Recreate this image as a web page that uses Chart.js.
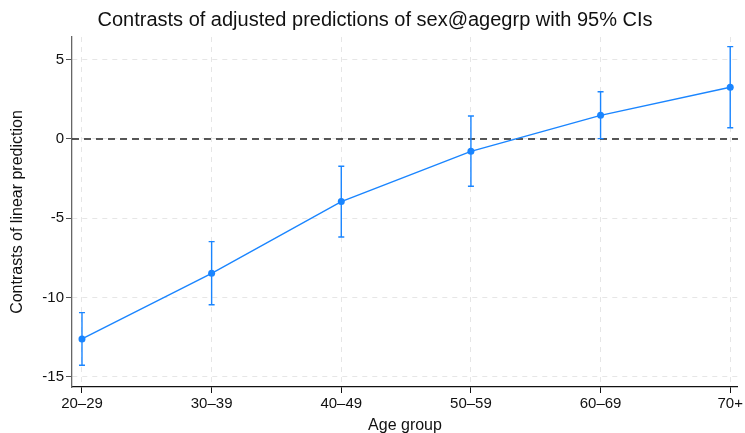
<!DOCTYPE html>
<html>
<head>
<meta charset="utf-8">
<script src="https://cdn.jsdelivr.net/npm/chart.js@4"></script>
<style>
  html, body { margin: 0; padding: 0; background: #fff; }
  #wrap { width: 745px; height: 433px; }
</style>
</head>
<body>
<div id="wrap"><canvas id="myChart" width="745" height="433"></canvas></div>
<script>
// data
var ageGroups = ["20\u201329", "30\u201339", "40\u201349", "50\u201359", "60\u201369", "70+"];
var contrast = [-12.61, -8.47, -3.95, -0.78, 1.49, 3.26];
var ciLower = [-14.27, -10.45, -6.18, -2.98, 0.02, 0.71];
var ciUpper = [-10.95, -6.47, -1.72, 1.45, 2.98, 5.82];
var yTicks = [-15, -10, -5, 0, 5];

var blue = "#1a85ff";

// zero line + vertical CI bars with small caps
const ciBars = {
    id: 'ciBars',
    beforeDatasetsDraw(chart) {
        const ctx = chart.ctx;
        const ys = chart.scales.y;
        const area = chart.chartArea;
        const y0 = ys.getPixelForValue(0);
        ctx.save();
        ctx.strokeStyle = "#222";
        ctx.lineWidth = 1.4;
        ctx.setLineDash([7, 5]);
        ctx.beginPath();
        ctx.moveTo(area.left, y0);
        ctx.lineTo(area.right, y0);
        ctx.stroke();
        ctx.restore();
    },
    afterDatasetsDraw(chart) {
        const ctx = chart.ctx;
        const xs = chart.scales.x, ys = chart.scales.y;
        ctx.save();
        ctx.strokeStyle = blue;
        ctx.lineWidth = 1.4;
        for (let i = 0; i < contrast.length; i++) {
            const x = xs.getPixelForValue(i);
            const top = ys.getPixelForValue(ciUpper[i]);
            const bot = ys.getPixelForValue(ciLower[i]);
            ctx.beginPath();
            ctx.moveTo(x, top); ctx.lineTo(x, bot);
            ctx.moveTo(x - 3, top); ctx.lineTo(x + 3, top);
            ctx.moveTo(x - 3, bot); ctx.lineTo(x + 3, bot);
            ctx.stroke();
        }
        ctx.restore();
    }
};

const ctx = document.getElementById('myChart');

new Chart(ctx, {
    type: 'line',
    data: {
        datasets: [{
            data: contrast.map((v, i) => ({ x: i, y: v })),
            borderColor: blue,
            backgroundColor: blue,
            borderWidth: 1.4,
            pointRadius: 3.5,
            pointBorderWidth: 0,
            tension: 0
        }]
    },
    options: {
        responsive: false,
        animation: false,
        layout: { padding: { left: 10, right: 5, top: 0, bottom: 0 } },
        plugins: {
            legend: { display: false },
            tooltip: { enabled: false },
            title: {
                display: true,
                text: "Contrasts of adjusted predictions of sex@agegrp with 95% CIs",
                color: "#111",
                font: { family: "Liberation Sans", size: 20, weight: "normal" },
                padding: { top: 8, bottom: 5 }
            }
        },
        scales: {
            x: {
                type: 'linear',
                min: -0.077,
                max: 5.06,
                afterBuildTicks: (s) => { s.ticks = ageGroups.map((_, i) => ({ value: i })); },
                afterFit: (s) => { s.height = 46; },
                ticks: {
                    color: "#111",
                    font: { family: "Liberation Sans", size: 15 },
                    padding: 2,
                    maxRotation: 0,
                    callback: (v) => ageGroups[v]
                },
                grid: { color: "#e6e6e6", lineWidth: 1, tickLength: 6, tickColor: "#111" },
                border: { display: true, color: "#111", width: 1.3, dash: [5, 5] },
                title: {
                    display: true,
                    text: "Age group",
                    color: "#111",
                    font: { family: "Liberation Sans", size: 16 },
                    padding: { top: 0, bottom: -2 }
                }
            },
            y: {
                min: -15.64,
                max: 6.43,
                afterBuildTicks: (s) => { s.ticks = yTicks.map(v => ({ value: v })); },
                afterFit: (s) => { s.width = 62; },
                ticks: {
                    color: "#111",
                    font: { family: "Liberation Sans", size: 15 },
                    padding: 2
                },
                grid: { color: "#e6e6e6", lineWidth: 1, tickLength: 6, tickColor: "#555" },
                border: { display: true, color: "#666", width: 1.3, dash: [5, 5] },
                title: {
                    display: true,
                    text: "Contrasts of linear prediction",
                    color: "#111",
                    font: { family: "Liberation Sans", size: 16 },
                    padding: { top: -2.5, bottom: 0 }
                }
            }
        }
    },
    plugins: [ciBars]
});
</script>
</body>
</html>
